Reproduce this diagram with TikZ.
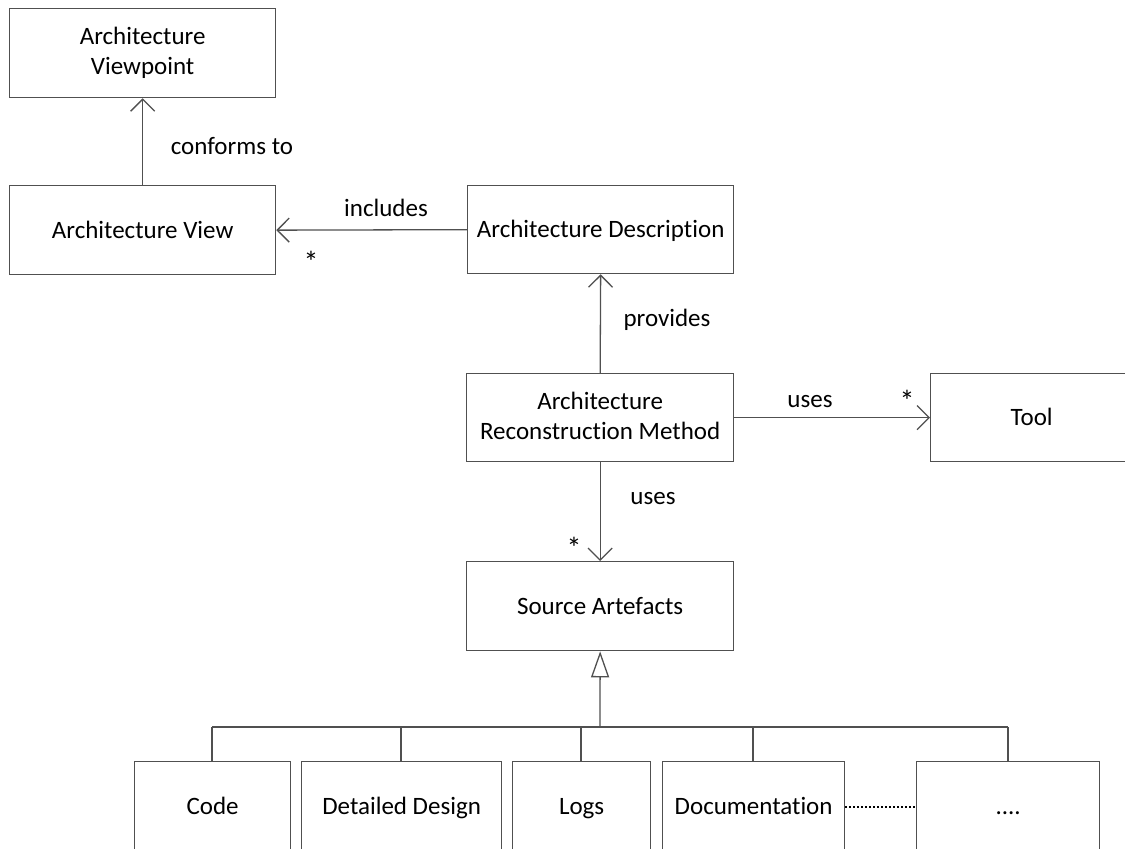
\documentclass[tikz,border=0pt]{standalone}
\usepackage{fontspec}
\setmainfont{Carlito}[Ligatures=NoCommon]
\usetikzlibrary{arrows.meta}
\definecolor{linegray}{RGB}{80,80,80}
\newcommand{\topstrut}{\rule{0pt}{20pt}}
\newcommand{\botstrut}{\rule[-4pt]{0pt}{4pt}}
\tikzset{
  box/.style={draw=linegray, line width=1.3pt, fill=white, align=center,
    inner sep=0pt, anchor=north west, font=\fontsize{25pt}{30pt}\selectfont,
    execute at begin node=\topstrut, execute at end node=\botstrut},
  lbl/.style={font=\fontsize{25pt}{30pt}\selectfont, inner sep=0pt},
  star/.style={font=\fontsize{30pt}{34pt}\selectfont, inner sep=0pt},
  assoc/.style={draw=linegray, line width=1.3pt,
    -{Straight Barb[length=12pt,width=24pt,line width=1.3pt]}},
  genline/.style={draw=linegray, line width=1.3pt},
  inherit/.style={genline, -{Triangle[open,length=26pt,width=18pt,fill=white,line width=1.3pt]}},
  dotline/.style={draw=black, line width=2pt, dash pattern=on 2pt off 2pt}
}
\begin{document}
\begin{tikzpicture}[x=1pt,y=-1pt]
\clip (0,0) rectangle (1125,849);
\fill[white] (0,0) rectangle (1125,849);

% classes
\node[box, minimum width=266pt, minimum height=89pt] (vp) at (9,8) {Architecture\\Viewpoint};
\node[box, minimum width=266pt, minimum height=89pt] (view) at (9,185) {Architecture View};
\node[box, minimum width=266pt, minimum height=88pt] (desc) at (467,185) {Architecture Description};
\node[box, minimum width=267pt, minimum height=88pt] (arm) at (466,373) {Architecture\\Reconstruction Method};
\node[box, minimum width=202pt, minimum height=88pt] (tool) at (930,373) {Tool};
\node[box, minimum width=267pt, minimum height=89pt] (src) at (466,561) {Source Artefacts};

% specialisations
\node[box, minimum width=156pt, minimum height=90pt] (code) at (134,761) {Code};
\node[box, minimum width=200pt, minimum height=90pt] (dd) at (301,761) {Detailed Design};
\node[box, minimum width=138pt, minimum height=90pt] (logs) at (512,761) {Logs};
\node[box, minimum width=182pt, minimum height=90pt] (doc) at (662,761) {Documentation};
\node[box, minimum width=183pt, minimum height=90pt] (more) at (916,761) {....};

% associations
\draw[assoc] (view.north) -- (vp.south);
\draw[assoc] (desc.west) -- (view.east);
\draw[assoc] (arm.north) -- (desc.south);
\draw[assoc] (arm.east) -- (tool.west);
\draw[assoc] (arm.south) -- (src.north);

\node[lbl] (lconf) at (232,146) {conforms to};
\node[lbl] (lincl) at (386,208) {includes};
\node[star] (sview) at (311,262) {*};
\node[lbl] (lprov) at (667,320) {provides};
\node[lbl] (luses1) at (810,402) {uses};
\node[star] (stool) at (907,401) {*};
\node[lbl] (luses2) at (653,499) {uses};
\node[star] (ssrc) at (574,548) {*};

% generalisation tree
\coordinate (hub) at (600,727);
\coordinate (busL) at (212,727);
\coordinate (busR) at (1008,727);
\draw[genline] (busL) -- (busR);
\draw[genline] (busL) -- (busL |- code.north);
\draw[genline] (401,727) -- (401,761);
\draw[genline] (581,727) -- (581,761);
\draw[genline] (753,727) -- (753,761);
\draw[genline] (busR) -- (busR |- more.north);
\draw[inherit] (hub) -- (src.south);

% continuation
\draw[dotline] (doc.east) -- (more.west);
\end{tikzpicture}
\end{document}
